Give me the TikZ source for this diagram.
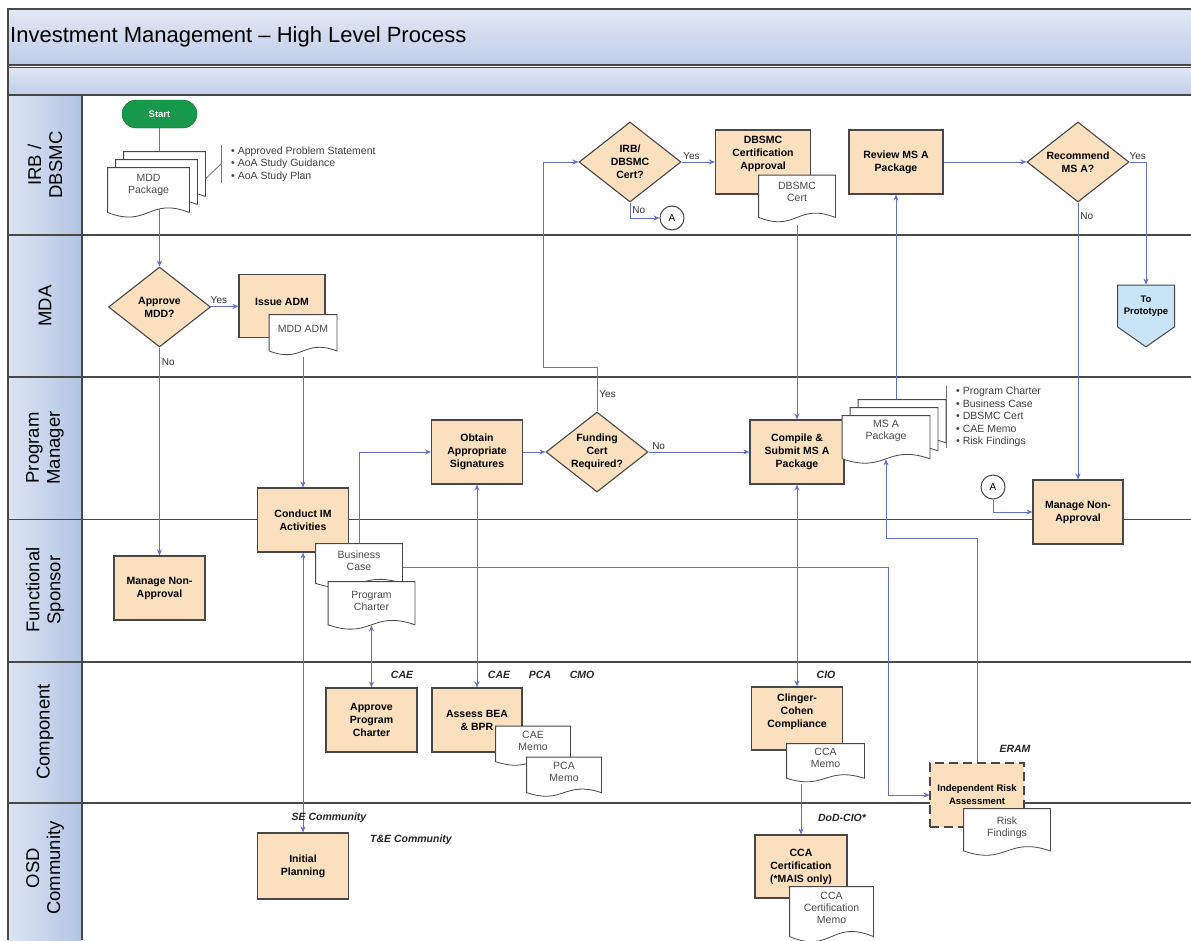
\documentclass[tikz,border=0pt]{standalone}
\usepackage{fontspec}
\setmainfont{Liberation Sans}
\usetikzlibrary{arrows.meta, shapes.geometric, shapes.symbols, shadows, positioning}

\definecolor{tasktan}{RGB}{250,224,191}
\definecolor{edgegray}{RGB}{72,72,72}
\definecolor{flowblue}{RGB}{100,112,206}
\definecolor{headblue}{RGB}{190,205,232}
\definecolor{laneblue}{RGB}{178,196,228}
\definecolor{startgreen}{RGB}{24,152,74}
\definecolor{protoblue}{RGB}{200,228,246}

\newcommand{\titlefont}{\fontsize{22}{26}\selectfont}
\newcommand{\lanefont}{\fontsize{18.5}{21}\selectfont}
\newcommand{\taskfont}{\fontsize{10.5}{13}\selectfont\bfseries}
\newcommand{\docfont}{\fontsize{10.5}{12}\selectfont}
\newcommand{\notefont}{\fontsize{10.5}{12.5}\selectfont}
\newcommand{\rolefont}{\fontsize{10.5}{12}\selectfont\bfseries\itshape}
\newcommand{\answerfont}{\fontsize{10}{12}\selectfont}

% layers: lane grid at the back, connectors above it, shapes on top
\pgfdeclarelayer{lanes}
\pgfdeclarelayer{edges}
\pgfsetlayers{lanes,edges,main}

% flowchart document symbol: a rectangle with a wavy bottom edge
\makeatletter
\pgfdeclareshape{document}{%
  \inheritsavedanchors[from=rectangle]%
  \inheritanchorborder[from=rectangle]%
  \inheritanchor[from=rectangle]{center}%
  \inheritanchor[from=rectangle]{north}%
  \inheritanchor[from=rectangle]{south}%
  \inheritanchor[from=rectangle]{east}%
  \inheritanchor[from=rectangle]{west}%
  \inheritanchor[from=rectangle]{north east}%
  \inheritanchor[from=rectangle]{north west}%
  \inheritanchor[from=rectangle]{south east}%
  \inheritanchor[from=rectangle]{south west}%
  \inheritanchor[from=rectangle]{mid}%
  \inheritanchor[from=rectangle]{base}%
  \backgroundpath{%
    \southwest \edef\docxa{\the\pgf@x}\edef\docya{\the\pgf@y}%
    \northeast \edef\docxb{\the\pgf@x}\edef\docyb{\the\pgf@y}%
    \pgfmathsetmacro\docw{\docxb-\docxa}%
    \pgfmathsetmacro\docwave{0.15*(\docyb-\docya)}%
    \pgfpathmoveto{\pgfpoint{\docxa}{\docyb}}%
    \pgfpathlineto{\pgfpoint{\docxb}{\docyb}}%
    \pgfpathlineto{\pgfpoint{\docxb}{\docya+\docwave}}%
    \pgfpathcurveto{\pgfpoint{\docxb-0.5*\docw}{\docya+3*\docwave}}%
      {\pgfpoint{\docxa+0.5*\docw}{\docya-\docwave}}%
      {\pgfpoint{\docxa}{\docya+\docwave}}%
    \pgfpathclose
  }%
}
\makeatother

\begin{document}
\begin{tikzpicture}[
    x=1pt, y=-1pt,
    laneline/.style={draw=edgegray, line width=1.6pt},
    lane/.style={rotate=90, align=center, font=\lanefont},
    startpill/.style={rectangle, rounded corners=14pt, fill=startgreen,
      draw=startgreen!70!black, minimum width=75pt, minimum height=28pt,
      text=white, font=\fontsize{9.5}{11}\selectfont\bfseries},
    task/.style={rectangle, draw=edgegray, line width=1.1pt, fill=tasktan,
      minimum width=91pt, minimum height=64pt, inner sep=2pt, align=center,
      font=\taskfont},
    riskbox/.style={task, dashed, dash pattern=on 9pt off 5pt,
      font=\fontsize{9.5}{13}\selectfont\bfseries},
    decision/.style={diamond, aspect=1.25, draw=edgegray, line width=1.1pt,
      fill=tasktan, minimum width=102pt, minimum height=80pt, inner sep=0pt,
      align=center, font=\taskfont},
    doc/.style={document, draw=edgegray, line width=0.8pt, fill=white,
      text=black!70, minimum width=76pt, minimum height=44pt, inner sep=2pt,
      text depth=13pt, align=center, font=\docfont},
    docstack/.style={doc,
      copy shadow={shadow xshift=16pt, shadow yshift=16pt, draw=edgegray,
        fill=white, line width=0.8pt},
      copy shadow={shadow xshift=8pt, shadow yshift=8pt, draw=edgegray,
        fill=white, line width=0.8pt}},
    offpage/.style={signal, signal to=south, signal pointer angle=110,
      draw=edgegray, line width=1pt, fill=protoblue, minimum width=57pt,
      minimum height=58pt, inner sep=1pt, align=center,
      font=\fontsize{9.5}{12}\selectfont\bfseries},
    jump/.style={circle, draw=edgegray, line width=1pt, fill=white,
      minimum size=24pt, inner sep=0pt, font=\fontsize{10}{12}\selectfont},
    note/.style={align=left, font=\notefont, text=black!75, inner xsep=10pt,
      inner ysep=1pt},
    callout/.style={draw=black!55, line width=0.8pt},
    role/.style={font=\rolefont, text=black!85},
    answer/.style={font=\answerfont, text=black!80, inner sep=2pt},
    flow/.style={draw=flowblue, line width=0.9pt, -{Stealth[length=6pt, width=5pt]}},
    both/.style={flow, {Stealth[length=6pt, width=5pt]}-{Stealth[length=6pt, width=5pt]}},
  ]
  \useasboundingbox (0,0) rectangle (1191,940);

  % header bands and swimlane grid
  \begin{pgfonlayer}{lanes}
    \fill[white] (0,0) rectangle (1191,940);
    \shade[top color=headblue!45, bottom color=headblue] (8,9) rectangle (1191,65);
    \shade[top color=headblue!45, bottom color=headblue] (8,67) rectangle (1191,95);
    \shade[left color=laneblue!45, right color=laneblue] (8,95) rectangle (82,940);
    \draw[laneline] (1191,9) -- (8,9) -- (8,940);
    \draw[laneline] (8,65) -- (1191,65);
    \draw[laneline, line width=0.8pt] (8,67) -- (1191,67);
    \draw[laneline] (8,95) -- (1191,95);
    \draw[laneline] (82,95) -- (82,940);
    \foreach \y in {235,377,519.5,662,803}
      \draw[laneline] (8,\y) -- (1191,\y);
  \end{pgfonlayer}

  % title and lane names
  \node[font=\titlefont, anchor=west, inner sep=0pt] (title) at (10,37)
    {Investment Management – High Level Process};
  \node[lane] (lirb)  at (45,165) {IRB /\\DBSMC};
  \node[lane] (lmda)  at (45,306) {MDA};
  \node[lane] (lpm)   at (45,448) {Program\\Manager};
  \node[lane] (lfs)   at (45,590) {Functional\\Sponsor};
  \node[lane] (lcomp) at (45,732) {Component};
  \node[lane] (losd)  at (45,868) {OSD\\Community};

  % IRB / DBSMC
  \node[startpill] (start) at (159.5,114) {Start};
  \node[docstack, minimum width=81pt, minimum height=52pt, text depth=20pt]
    (mddpkg) at (148.5,194) {MDD\\Package};
  \node[note, anchor=west] (mddnote) at (221,164)
    {• Approved Problem Statement\\• AoA Study Guidance\\• AoA Study Plan};
  \node[decision] (irbcert) at (630,162) {IRB/\\DBSMC\\Cert?};
  \node[jump] (conA1) at (672,218) {A};
  \node[task, minimum width=95pt, text depth=18pt] (dbsmcappr) at (763,162)
    {DBSMC\\Certification\\Approval};
  \node[doc, minimum width=76pt, minimum height=49pt, text depth=17pt]
    (dbsmccert) at (797,200) {DBSMC\\Cert};
  \node[task, minimum width=94pt] (review) at (896,162) {Review MS A\\Package};
  \node[decision] (recommend) at (1078,162) {Recommend\\MS A?};

  % MDA
  \node[decision] (approve) at (159.5,307) {Approve\\MDD?};
  \node[task, minimum width=86pt, minimum height=63pt, text depth=8pt]
    (issueadm) at (282,306) {Issue ADM};
  \node[doc, minimum width=67pt, minimum height=42pt, text depth=15pt]
    (mddadm) at (303,336) {MDD ADM};
  \node[offpage] (toproto) at (1146,306) {To\\Prototype};

  % program manager
  \node[task] (conduct) at (303,520) {Conduct IM\\Activities};
  \node[task] (obtain) at (477,452) {Obtain\\Appropriate\\Signatures};
  \node[decision] (funding) at (597,452) {Funding\\Cert\\Required?};
  \node[task, minimum width=94pt] (compile) at (797,452)
    {Compile \&\\Submit MS A\\Package};
  \node[docstack, minimum width=87pt, minimum height=50pt, text depth=22pt]
    (msapkg) at (886,441) {MS A\\Package};
  \node[note, anchor=west] (msanote) at (946,417)
    {• Program Charter\\• Business Case\\• DBSMC Cert\\• CAE Memo\\• Risk Findings};
  \node[jump] (conA2) at (993,487) {A};
  \node[task, minimum width=90pt] (mgmtnonR) at (1078,512) {Manage Non-\\Approval};

  % functional sponsor
  \node[task] (mgmtnonL) at (159.5,588) {Manage Non-\\Approval};
  \node[doc, minimum width=86pt, minimum height=46pt] (bizcase) at (359,567)
    {Business\\Case};
  \node[doc, minimum width=86pt, minimum height=50pt] (charter) at (371.5,607)
    {Program\\Charter};

  % component
  \node[role] (rcae) at (402,675) {CAE};
  \node[role] (rcae2) at (499,675) {CAE};
  \node[role] (rpca) at (540,675) {PCA};
  \node[role] (rcmo) at (582,675) {CMO};
  \node[role] (rcio) at (826,675) {CIO};
  \node[role] (reram) at (1015,749) {ERAM};
  \node[task] (apprcharter) at (371.5,720) {Approve\\Program\\Charter};
  \node[task, minimum width=90pt] (assess) at (477,720) {Assess BEA\\\& BPR};
  \node[doc, minimum width=74pt, minimum height=41pt] (caememo) at (533,747)
    {CAE\\Memo};
  \node[doc, minimum width=74pt, minimum height=41pt] (pcamemo) at (564,778)
    {PCA\\Memo};
  \node[task, minimum height=63pt, text depth=15pt] (clinger) at (797,718.5)
    {Clinger-\\Cohen\\Compliance};
  \node[doc, minimum width=77pt, minimum height=40pt] (ccamemo) at (825.5,764)
    {CCA\\Memo};
  \node[riskbox, minimum width=94pt] (ira) at (977,795)
    {Independent Risk\\Assessment};
  \node[doc, minimum width=86pt, minimum height=49pt] (riskfind) at (1007,833.5)
    {Risk\\Findings};

  % OSD community
  \node[role] (rse) at (329,818) {SE Community};
  \node[role] (rte) at (411,840) {T\&E Community};
  \node[role] (rdodcio) at (842,818) {DoD-CIO*};
  \node[task, minimum height=66pt] (initial) at (303,866) {Initial\\Planning};
  \node[task, minimum width=92pt, minimum height=63pt] (ccacert) at (801,866.5)
    {CCA\\Certification\\(*MAIS only)};
  \node[doc, minimum width=83pt, minimum height=58pt, text depth=17pt]
    (ccacertmemo) at (831.5,916) {CCA\\Certification\\Memo};

  \begin{pgfonlayer}{edges}
    % main path through MDA and the program manager
    \draw[flow] (start) -- (approve);
    \draw[flow] (approve) -- node[answer, above, pos=0.3] {Yes} (issueadm);
    \draw[flow] (approve) -- node[answer, right, pos=0.07] {No} (mgmtnonL);
    \draw[flow] (mddadm) -- (conduct);
    \draw[flow] (bizcase.north) |- (obtain);
    \draw[flow] (obtain) -- (funding);
    \coordinate (certbend) at (543,367);
    \draw[flow] (funding.north) |- node[answer, right, pos=0.2] {Yes} (certbend)
      |- (irbcert);
    \draw[flow] (irbcert) -- node[answer, above, pos=0.3] {Yes} (dbsmcappr);
    \draw[flow] (irbcert.south) |- node[answer, right, pos=0.25] {No} (conA1);
    \draw[flow] (dbsmccert) -- (compile);
    \draw[flow] (funding) -- node[answer, above, pos=0.1] {No} (compile);
    \draw[flow] (review |- msapkg.north) -- (review);
    \draw[flow] (review) -- (recommend);
    \draw[flow] (recommend) -| node[answer, above, pos=0.25] {Yes} (toproto);
    \draw[flow] (recommend) -- node[answer, right, pos=0.05] {No} (mgmtnonR);
    \draw[flow] (conA2) |- (mgmtnonR);
    % exchanges with the supporting lanes
    \draw[both] (compile) -- (clinger);
    \draw[both] (obtain) -- (assess);
    \draw[both] (conduct) -- (initial);
    \draw[both, shorten <=-7pt] (charter) -- (apprcharter);
    \draw[flow] (ccamemo.south -| ccacert) -- (ccacert);
    % risk assessment loop
    \coordinate (riskbend) at (888,700);
    \draw[flow] (bizcase) -| (riskbend) |- (ira);
    \coordinate (findbend) at (977,538);
    \draw[flow, shorten >=-7pt] (ira) -- (findbend) -| (msapkg);
    % package contents
    \draw[callout] (mddnote.north west) -- (mddnote.south west);
    \draw[callout] (mddnote.west) -- (mddpkg.east);
    \draw[callout] (msanote.north west) -- (msanote.south west);
    \draw[callout] (msanote.west) -- (msapkg.east);
  \end{pgfonlayer}
\end{tikzpicture}
\end{document}
